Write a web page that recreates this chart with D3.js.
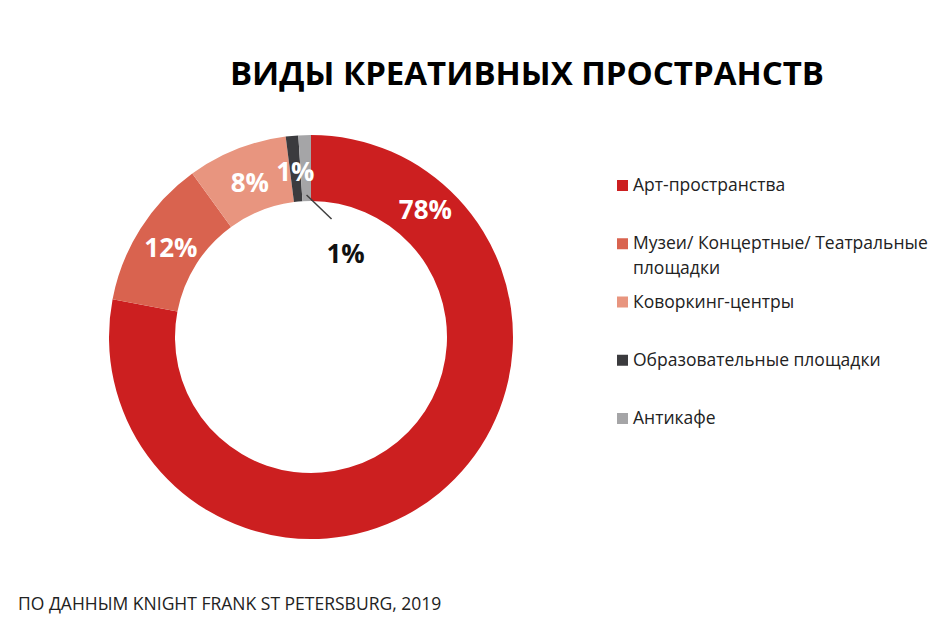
<!DOCTYPE html>
<html>
<head>
<meta charset="utf-8">
<script src="https://cdn.jsdelivr.net/npm/d3@7"></script>
<style>
  body { margin: 0; background: #fff; }
  text { font-family: "Open Sans", sans-serif; }
</style>
</head>
<body>
<script>
// data
var categories = [
  "Арт-пространства",
  "Музеи/ Концертные/ Театральные площадки",
  "Коворкинг-центры",
  "Образовательные площадки",
  "Антикафе"
];
var shares = [78, 12, 8, 1, 1];
var colors = ["#cc1f20", "#d9634f", "#e8957f", "#3b3b3e", "#a5a5a7"];
var legendLines = [
  ["Арт-пространства"],
  ["Музеи/ Концертные/ Театральные", "площадки"],
  ["Коворкинг-центры"],
  ["Образовательные площадки"],
  ["Антикафе"]
];

var W = 945, H = 623;
var cx = 311, cy = 337, rOut = 202, rIn = 136;

var svg = d3.select("body").append("svg")
  .attr("width", W).attr("height", H);

svg.append("text")
  .attr("x", 527).attr("y", 85)
  .attr("text-anchor", "middle")
  .style("font-size", "33px").style("font-weight", 700)
  .text("ВИДЫ КРЕАТИВНЫХ ПРОСТРАНСТВ");

var pie = d3.pie().sort(null).value(function(d) { return d; });
var arcs = pie(shares);
var arc = d3.arc().innerRadius(rIn).outerRadius(rOut);
var labelArc = d3.arc().innerRadius(rIn - 4).outerRadius(rOut - 2);

var g = svg.append("g").attr("transform", "translate(" + cx + "," + cy + ")");

g.selectAll("path")
  .data(arcs)
  .enter()
  .append("path")
  .attr("d", arc)
  .attr("fill", function(d, i) { return colors[i]; });

// labels inside the ring (the last one sits inside the hole with a leader)
var inside = arcs.slice(0, 4);
g.selectAll(".lbl")
  .data(inside)
  .enter()
  .append("text")
  .attr("class", "lbl")
  .attr("transform", function(d, i) {
    var p;
    if (i === 0) {
      // excel "best fit" puts the big one up in the top right
      var a = 42 * Math.PI / 180, r = (rIn + rOut) / 2 + 2;
      p = [r * Math.sin(a), -r * Math.cos(a)];
    } else {
      p = labelArc.centroid(d);
    }
    return "translate(" + p[0] + "," + p[1] + ")";
  })
  .attr("text-anchor", "middle")
  .attr("dy", "0.36em")
  .style("font-size", "26px").style("font-weight", 700)
  .attr("fill", "#fff")
  .text(function(d) { return d.data + "%"; });

// leader for the last slice
var last = arcs[4];
var mid = (last.startAngle + last.endAngle) / 2;
var r0 = rIn + 6;
var p0 = [r0 * Math.sin(mid), -r0 * Math.cos(mid)];
g.append("line")
  .attr("x1", p0[0]).attr("y1", p0[1])
  .attr("x2", p0[0] + 25).attr("y2", p0[1] + 24)
  .attr("stroke", "#404040").attr("stroke-width", 1.5);
g.append("text")
  .attr("x", p0[0] + 39).attr("y", p0[1] + 59)
  .attr("text-anchor", "middle")
  .attr("dy", "0.36em")
  .style("font-size", "26px").style("font-weight", 700)
  .attr("fill", "#111")
  .text(last.data + "%");

// legend
var legendY = d3.scalePoint().domain(d3.range(categories.length)).range([185, 418]);
var leg = svg.selectAll(".leg")
  .data(categories)
  .enter()
  .append("g")
  .attr("class", "leg")
  .attr("transform", function(d, i) { return "translate(617," + legendY(i) + ")"; });

leg.append("rect")
  .attr("x", 0).attr("y", -5)
  .attr("width", 11).attr("height", 11)
  .attr("fill", function(d, i) { return colors[i]; });

leg.append("text")
  .attr("x", 16)
  .style("font-size", "17.5px")
  .attr("fill", "#222")
  .selectAll("tspan")
  .data(function(d, i) { return legendLines[i]; })
  .enter()
  .append("tspan")
  .attr("x", 16)
  .attr("y", function(d, j) { return 6 + j * 25; })
  .text(function(d) { return d; });

svg.append("text")
  .attr("x", 18).attr("y", 610)
  .style("font-size", "17.5px")
  .attr("fill", "#222")
  .text("ПО ДАННЫМ KNIGHT FRANK ST PETERSBURG, 2019");
</script>
</body>
</html>
